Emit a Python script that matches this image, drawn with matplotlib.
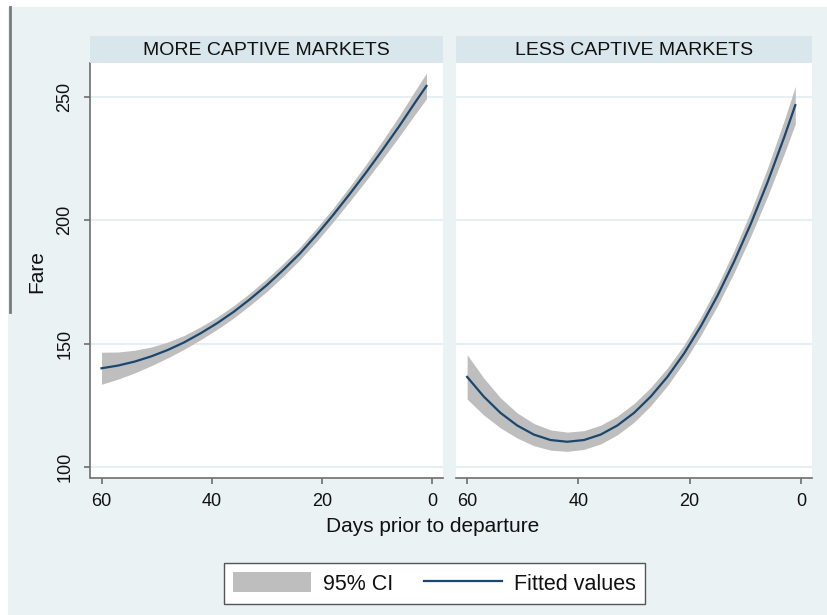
import matplotlib
matplotlib.use("Agg")
import matplotlib.pyplot as plt
from matplotlib.patches import Patch, Rectangle
from matplotlib.lines import Line2D

plt.rcParams['font.family'] = ['Liberation Sans', 'DejaVu Sans']

# Days prior to departure at which the fitted fare is listed
days = [60, 57, 54, 51, 48, 45, 42, 39, 36, 33, 30, 27, 24, 21, 18, 15, 12, 9, 6, 3, 1]

# More captive markets: fitted fare and 95% CI bounds
more_fit = [140.0, 141.1, 142.7, 144.8, 147.4, 150.5, 154.2, 158.3, 162.9, 168.1, 173.7,
            179.9, 186.5, 194.0, 202.0, 210.5, 219.3, 228.5, 238.0, 248.0, 254.5]
more_lo = [133.5, 135.6, 138.1, 141.0, 144.2, 147.7, 151.6, 155.8, 160.4, 165.6, 171.1,
           177.3, 183.9, 191.3, 199.2, 207.5, 216.0, 224.8, 233.8, 243.2, 249.3]
more_hi = [146.5, 146.6, 147.3, 148.6, 150.6, 153.3, 156.8, 160.8, 165.4, 170.6, 176.3,
           182.5, 189.1, 196.7, 204.8, 213.5, 222.6, 232.2, 242.2, 252.8, 259.7]

# Less captive markets: fitted fare and 95% CI bounds
less_fit = [136.5, 128.5, 121.9, 116.8, 113.1, 110.9, 110.2, 110.9, 113.1, 116.8, 121.9,
            128.5, 136.5, 146.0, 157.0, 169.4, 183.3, 198.6, 215.4, 233.7, 246.7]
less_lo = [127.5, 121.0, 115.8, 111.7, 108.6, 106.8, 106.3, 107.1, 109.3, 113.0, 118.1,
           124.8, 132.9, 142.5, 153.3, 165.3, 178.8, 193.6, 209.6, 226.9, 239.1]
less_hi = [145.5, 136.0, 128.0, 121.9, 117.6, 115.0, 114.1, 114.7, 116.9, 120.6, 125.7,
           132.2, 140.1, 149.5, 160.7, 173.5, 187.8, 203.6, 221.2, 240.5, 254.3]

panel_titles = ["MORE CAPTIVE MARKETS", "LESS CAPTIVE MARKETS"]
y_ticks = [100, 150, 200, 250]
x_ticks = [60, 40, 20, 0]

BG = "#EAF2F3"
STRIP = "#D9E6EB"
GRID = "#E6EFF1"
LINE = "#1A476F"
CI = "#BEBEBE"
AXC = "#6E6E6E"

W, H = 828, 615
fig = plt.figure(figsize=(W / 100, H / 100), dpi=100, facecolor="white")

# graph region background and left border rule
fig.patches.append(Rectangle((8 / W, 0), (W - 8) / W, (H - 7) / H, transform=fig.transFigure,
                             facecolor=BG, edgecolor="none", zorder=-10))
fig.add_artist(Line2D([9.5 / W, 9.5 / W], [(H - 312) / H, (H - 7) / H], transform=fig.transFigure,
                      color="#7A7A7A", linewidth=2.0))

panels = [
    (90.5, 443, more_fit, more_lo, more_hi),
    (456, 812, less_fit, less_lo, less_hi),
]
top, bottom = 63, 478
for i, (x0, x1, fit, lo, hi) in enumerate(panels):
    ax = fig.add_axes([x0 / W, (H - bottom) / H, (x1 - x0) / W, (bottom - top) / H])
    ax.set_facecolor("white")
    ax.fill_between(days, lo, hi, color=CI, linewidth=0, zorder=2)
    ax.plot(days, fit, color=LINE, linewidth=1.6, zorder=3)
    ax.set_xlim(62.0, -2.0)
    ax.set_ylim(95.5, 263.8)
    ax.set_yticks(y_ticks)
    ax.set_xticks(x_ticks)
    for yv in y_ticks:
        ax.axhline(yv, color=GRID, linewidth=1.5, zorder=1)
    for s in ["top", "right"]:
        ax.spines[s].set_visible(False)
    ax.spines["bottom"].set_color(AXC)
    ax.spines["bottom"].set_linewidth(1.2)
    ax.tick_params(axis="x", colors=AXC, length=4.5, width=1.2, pad=6, labelsize=13,
                   labelcolor="#111111")
    if i == 0:
        ax.spines["left"].set_color(AXC)
        ax.spines["left"].set_linewidth(1.2)
        ax.tick_params(axis="y", colors=AXC, length=4.5, width=1.2, pad=8, labelsize=13,
                       labelcolor="#111111")
        for lab in ax.get_yticklabels():
            lab.set_rotation(90)
            lab.set_va("center")
    else:
        ax.spines["left"].set_visible(False)
        ax.tick_params(axis="y", left=False, labelleft=False)

    # panel header strip
    sax = fig.add_axes([x0 / W, (H - top) / H, (x1 - x0) / W, 27 / H])
    sax.set_facecolor(STRIP)
    sax.set_xticks([])
    sax.set_yticks([])
    for s in sax.spines.values():
        s.set_visible(False)
    sax.text(0.5, 0.45, panel_titles[i], transform=sax.transAxes, ha="center", va="center",
             fontsize=14, color="#111111")

fig.text(37 / W, (H - 272) / H, "Fare", rotation=90, ha="center", va="center", fontsize=15,
         color="#111111")
fig.text(433 / W, (H - 527) / H, "Days prior to departure", ha="center", va="center",
         fontsize=15, color="#111111")

handles = [Patch(facecolor=CI, edgecolor="none"), Line2D([], [], color=LINE, linewidth=1.6)]
leg = fig.legend(handles, ["95% CI", "Fitted values"], ncol=2, loc="center",
                 bbox_to_anchor=(434.5 / W, (H - 583.5) / H), fontsize=15.5,
                 handlelength=3.63, handleheight=1.0, handletextpad=0.56, columnspacing=1.4,
                 borderpad=0.42, frameon=True, fancybox=False, framealpha=1)
leg.get_frame().set_edgecolor("#555555")
leg.get_frame().set_linewidth(1.0)
for t in leg.get_texts():
    t.set_color("#111111")

fig.savefig("out.png", dpi=100, facecolor="white")
